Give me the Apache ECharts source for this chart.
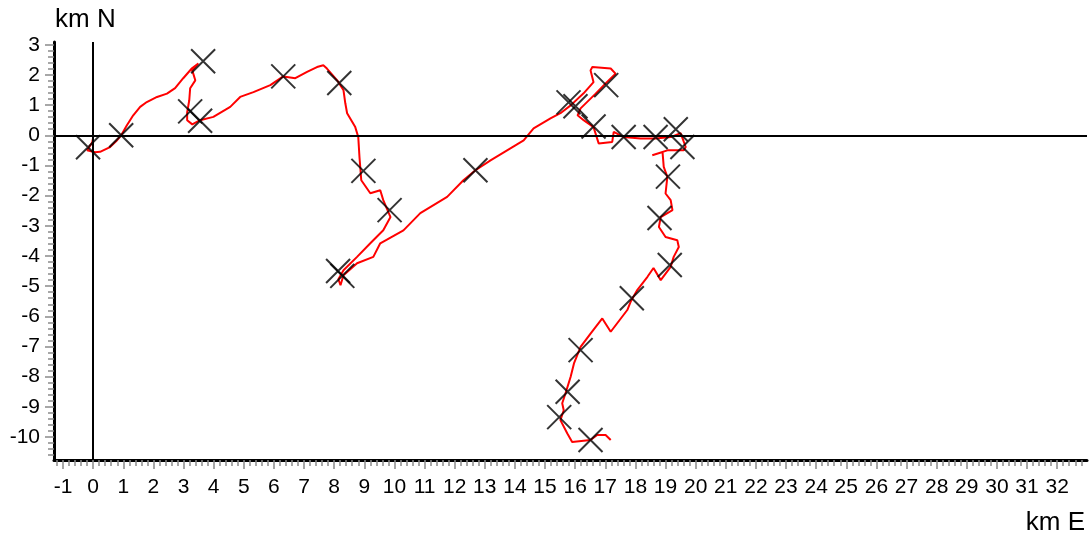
<!DOCTYPE html>
<html>
<head>
<meta charset="utf-8">
<script src="https://cdn.jsdelivr.net/npm/echarts@6/dist/echarts.min.js"></script>
<style>html,body{margin:0;padding:0;background:#fff}#c{width:1092px;height:538px}</style>
</head>
<body>
<div id="c"></div>
<script>
// Track (km East, km North)
const trackE = [0.00,-0.03,-0.20,0.07,0.23,0.56,0.76,0.93,1.12,1.33,1.56,1.78,2.12,2.45,2.72,2.99,3.28,3.49,
  3.29,3.39,3.22,3.19,3.12,3.12,3.29,3.55,3.99,4.55,4.88,5.32,5.88,6.31,6.71,7.10,7.43,7.64,7.76,8.10,8.31,8.37,8.43,8.70,8.80,8.84,8.90,9.20,9.53,9.63,9.87,9.63,9.20,8.76,8.31,8.14,8.21,
  8.31,8.76,9.30,9.53,10.30,10.86,11.75,12.29,12.69,13.19,13.74,14.29,14.62,15.18,15.51,15.85,16.28,16.61,16.51,16.57,17.18,17.34,17.01,16.68,16.18,16.08,16.28,16.61,16.73,16.78,17.23,17.28,17.61,18.17,18.67,19.17,19.50,19.67,19.60,19.06,18.56,18.90,
  18.94,19.06,19.00,19.17,19.23,18.84,18.78,19.00,19.39,19.44,19.27,19.17,18.84,18.60,18.40,18.06,17.84,17.73,17.18,16.90,16.51,16.18,15.96,15.85,15.68,15.57,15.62,15.51,15.74,15.90,16.51,16.73,17.01,17.18];
const trackN = [-0.07,-0.23,-0.50,-0.56,-0.55,-0.39,-0.20,0.00,0.33,0.66,0.94,1.10,1.27,1.38,1.56,1.89,2.22,2.38,
  2.15,1.82,1.56,1.16,0.76,0.50,0.36,0.50,0.61,0.94,1.27,1.43,1.66,1.95,1.89,2.10,2.26,2.32,2.21,1.82,1.49,1.06,0.73,0.27,-0.06,-0.72,-1.49,-1.92,-1.82,-2.15,-2.71,-3.15,-3.58,-4.03,-4.47,-4.77,-4.97,
  -4.64,-4.24,-4.03,-3.58,-3.15,-2.58,-2.04,-1.49,-1.16,-0.83,-0.50,-0.17,0.23,0.56,0.73,0.99,1.39,1.76,2.15,2.26,2.21,2.04,1.72,1.38,0.89,0.66,0.50,0.27,-0.11,-0.27,-0.22,0.11,-0.06,-0.11,-0.11,-0.06,0.07,-0.39,-0.50,-0.50,-0.66,-0.56,
  -1.05,-1.38,-1.93,-2.15,-2.48,-2.71,-3.04,-3.37,-3.48,-3.70,-4.03,-4.36,-4.80,-4.40,-4.69,-5.13,-5.52,-5.79,-6.51,-6.07,-6.57,-7.01,-7.56,-8.00,-8.55,-8.88,-9.11,-9.44,-9.88,-10.16,-10.10,-9.93,-9.93,-10.10];
// Fix markers (km East, km North)
const fixE = [-0.17,0.93,3.65,3.22,3.55,6.31,8.17,8.97,9.84,8.13,8.27,12.69,15.78,16.01,17.03,16.61,17.61,18.67,19.34,19.56,19.08,18.80,19.14,17.88,16.18,15.75,15.47,16.51];
const fixN = [-0.40,0.00,2.45,0.79,0.48,1.95,1.73,-1.18,-2.48,-4.50,-4.66,-1.16,1.09,0.96,1.66,0.29,-0.06,-0.06,0.20,-0.39,-1.37,-2.74,-4.30,-5.40,-7.12,-8.50,-9.34,-10.10];
// Tick labels
const xTickLabels = [-1,0,1,2,3,4,5,6,7,8,9,10,11,12,13,14,15,16,17,18,19,20,21,22,23,24,25,26,27,28,29,30,31,32];
const yTickLabels = [-10,-9,-8,-7,-6,-5,-4,-3,-2,-1,0,1,2,3];
const axisLabelE = "km E";
const axisLabelN = "km N";

const minorOf = (from, to) => {
  const out = [];
  for (let k = Math.round(from * 5); k <= Math.round(to * 5); k++) {
    if (k % 5 !== 0) out.push(k / 5);
  }
  return out;
};
const xMinor = minorOf(-1.2, 32.8);
const yMinor = minorOf(-10.6, 3.0);

const X_MIN = -1.3, X_MAX = 32.99, Y_MIN = -10.76, Y_MAX = 3.09;
const font = '"Liberation Sans", Arial, sans-serif';
const tickColor = '#8a8a8a';

const chart = echarts.init(document.getElementById('c'), null, {renderer:'canvas'});
chart.setOption({
  animation:false,
  backgroundColor:'#fff',
  grid:{left:54,right:5,top:42,bottom:78,containLabel:false},
  xAxis:[{type:'value',min:X_MIN,max:X_MAX,position:'bottom',
    axisLine:{show:true,onZero:false,lineStyle:{color:'#000',width:3}},
    axisTick:{show:true,length:9,customValues:xTickLabels,lineStyle:{color:tickColor,width:1.5}},
    splitLine:{show:false},
    axisLabel:{customValues:xTickLabels,margin:17,fontSize:21,color:'#000',fontFamily:font}
  },{type:'value',min:X_MIN,max:X_MAX,position:'bottom',
    axisLine:{show:false,onZero:false},
    axisTick:{show:true,length:6,customValues:xMinor,lineStyle:{color:tickColor,width:1.5}},
    splitLine:{show:false},axisLabel:{show:false}
  }],
  yAxis:[{type:'value',min:Y_MIN,max:Y_MAX,position:'left',
    axisLine:{show:true,onZero:false,lineStyle:{color:'#000',width:3}},
    axisTick:{show:true,length:9,customValues:yTickLabels,lineStyle:{color:tickColor,width:1.5}},
    splitLine:{show:false},
    axisLabel:{customValues:yTickLabels,margin:14,fontSize:21,color:'#000',fontFamily:font}
  },{type:'value',min:Y_MIN,max:Y_MAX,position:'left',
    axisLine:{show:false,onZero:false},
    axisTick:{show:true,length:6,customValues:yMinor,lineStyle:{color:tickColor,width:1.5}},
    splitLine:{show:false},axisLabel:{show:false}
  }],
  graphic:[
    {type:'text',left:55,top:7,style:{text:axisLabelN,fontSize:26,fill:'#000',fontFamily:font}},
    {type:'text',right:7,top:510,style:{text:axisLabelE,fontSize:26,fill:'#000',fontFamily:font}}
  ],
  series:[
    {type:'line',xAxisIndex:0,yAxisIndex:0,data:trackE.map((e,i)=>[e,trackN[i]]),showSymbol:false,symbol:'none',
      lineStyle:{color:'#ff0000',width:2},z:2},
    {type:'scatter',xAxisIndex:0,yAxisIndex:0,data:fixE.map((e,i)=>[e,fixN[i]]),symbol:'path://M0,0L10,10M10,0L0,10',symbolSize:24,
      itemStyle:{color:'none',borderColor:'#000',borderWidth:2},z:4,
      markLine:{silent:true,symbol:'none',label:{show:false},
        lineStyle:{color:'#000',width:2,type:'solid'},
        data:[{xAxis:0},{yAxis:0}]}
    }
  ]
});
</script>
</body>
</html>
